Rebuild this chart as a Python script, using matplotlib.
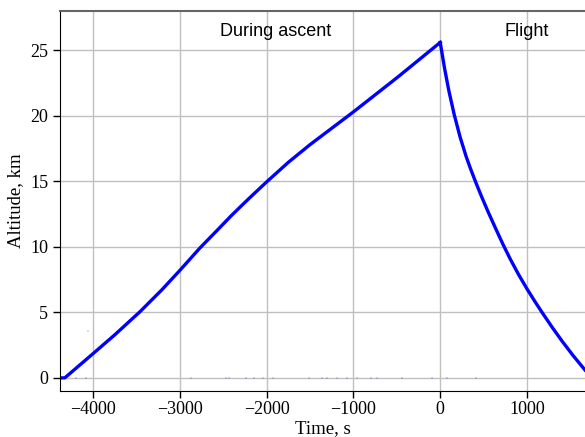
import numpy as np
import matplotlib
matplotlib.use("Agg")
import matplotlib.pyplot as plt

# Ascent branch (time before burst, s) and altitude (km)
t_ascent = np.array([-4380, -4325, -4003, -3747, -3459, -3210, -3000, -2770,
                     -2557, -2404, -2210, -2001, -1750, -1500, -1250, -1000,
                     -750, -500, -250, 0])
h_ascent = np.array([0.0, 0.0, 1.83, 3.3, 5.05, 6.7, 8.2, 9.9,
                     11.35, 12.4, 13.65, 14.95, 16.45, 17.8, 19.05, 20.3,
                     21.6, 22.9, 24.25, 25.6])

# Descent branch after burst
t_flight = np.array([0, 50, 100, 161, 230, 300, 355, 411, 480, 550, 640,
                     726, 810, 900, 1000, 1090, 1179, 1290, 1400, 1530, 1668])
h_flight = np.array([25.6, 23.63, 21.9, 20.1, 18.36, 16.87, 15.86, 14.9, 13.78, 12.7, 11.38,
                     10.15, 9.03, 7.92, 6.79, 5.84, 4.94, 3.86, 2.84, 1.71, 0.6])

# faint stray samples seen near the ground
t_stray = np.array([-4197, -4075, -2872, -2469, -2431, -2238, -2143, -2047, -1932,
                    -1509, -1359, -1302, -1187, -1071, -956, -795, -726, -438,
                    -92, 81, 415, -4052])
h_stray = np.array([0, 0, 0, 0, 0, 0, 0, 0, 0, 0, 0, 0, 0, 0, 0, 0, 0, 0, 0, 0, 0, 3.58])

fig = plt.figure(figsize=(5.85, 4.37), dpi=100)
ax = fig.add_axes([0.1026, 0.1053, 0.8974, 0.8695])

ax.plot(t_stray, h_stray, ls="none", marker="s", ms=1.5, mew=0,
        color="blue", alpha=0.15)
ax.plot(t_ascent, h_ascent, color="blue", lw=2.4, solid_joinstyle="round")
ax.plot(t_flight, h_flight, color="blue", lw=2.4, solid_joinstyle="round")

ax.set_xlim(-4380, 1668)
ax.set_ylim(-1.0, 28.0)
ax.set_xticks([-4000, -3000, -2000, -1000, 0, 1000])
ax.set_yticks([0, 5, 10, 15, 20, 25])
ax.set_xticklabels(["\u22124000", "\u22123000", "\u22122000", "\u22121000", "0", "1000"])
ax.grid(True, color="#c0c0c0", lw=1.0)
ax.set_axisbelow(True)

serif = ["Liberation Serif", "DejaVu Serif"]
for lab in ax.get_xticklabels() + ax.get_yticklabels():
    lab.set_family(serif)
    lab.set_fontsize(13)
ax.tick_params(direction="out", length=5, width=1, colors="black")
ax.tick_params(axis="x", pad=2.5)

ax.set_xlabel("Time, s", family=serif, fontsize=13.5, labelpad=1)
ax.set_ylabel("Altitude, km", family=serif, fontsize=13.5, labelpad=4)

ax.spines["right"].set_visible(False)
ax.spines["top"].set_color("#666666")
ax.spines["top"].set_linewidth(1.5)

ax.text(-1892, 26.45, "During ascent", ha="center", va="center",
        family="Liberation Sans", fontsize=13)
ax.text(1000, 26.45, "Flight", ha="center", va="center",
        family="Liberation Sans", fontsize=13)

fig.savefig("out.png", dpi=100)
